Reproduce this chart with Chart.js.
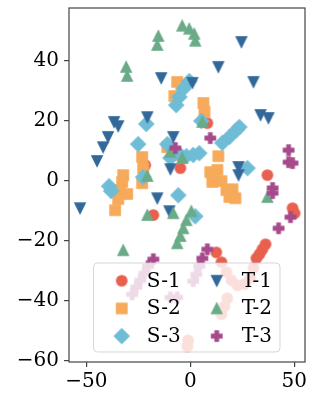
<!DOCTYPE html>
<html>
<head>
<meta charset="utf-8">
<script src="https://cdn.jsdelivr.net/npm/chart.js@4.4.0/dist/chart.umd.min.js"></script>
<style>
  html, body { margin: 0; padding: 0; background: #fff; }
  #wrap { width: 319px; height: 405px; }
</style>
</head>
<body>
<div id="wrap"><canvas id="chart" width="319" height="405"></canvas></div>
<script>
// ========== Dados ==========
const seriesNames = ['S-1', 'S-2', 'S-3', 'T-1', 'T-2', 'T-3'];

const s1 = [[8.2,19.2],[-21.7,5.2],[-4.8,4.2],[-17.8,-11.4],[37.1,1.9],[49.2,-9.1],[50.2,-10.8],
  [36.2,-21.1],[34.7,-22.8],[33.3,-24.4],[31.8,-25.8],[12.5,-23.8],[15.0,-27.1],[17.4,-30.4],
  [19.8,-33.1],[22.7,-34.8],[26.0,-34.4],[28.9,-32.4],[30.4,-29.1],[17.8,-39.1],[16.4,-41.8],
  [15.0,-44.4],[-1.0,-53.1],[-1.4,-55.1]];
const s2 = [[-6.3,32.9],[-7.7,28.2],[6.3,25.9],[6.8,22.9],[-23.2,7.9],[-22.7,4.2],[-23.2,-0.8],
  [-32.3,1.9],[-32.8,-0.4],[-33.8,-3.1],[-30.4,-4.4],[-34.7,-6.1],[-36.2,-9.8],[-11.1,11.2],
  [-8.7,8.6],[13.5,8.2],[9.6,2.9],[13.0,3.6],[10.6,-0.4],[15.0,-0.1],[17.4,-3.1],[20.3,-2.8],
  [18.8,-5.4],[21.7,-5.8]];
const s3 = [[-0.5,33.2],[-3.4,30.6],[-5.3,27.9],[-6.8,25.2],[-21.2,18.9],[-25.1,12.2],[5.3,19.9],
  [15.4,12.6],[18.8,14.6],[22.2,16.9],[23.6,17.9],[-11.1,12.2],[-9.6,7.6],[-4.8,8.6],[-1.9,8.2],
  [1.4,8.6],[4.3,9.2],[-22.7,1.2],[-39.1,-1.8],[-38.1,-3.4],[-5.8,-4.8],[2.4,-11.8],[27.5,4.2]];
const t1 = [[24.6,46.2],[13.5,37.9],[30.4,32.9],[1.0,32.6],[-14.0,34.2],[33.8,21.9],[37.6,20.9],
  [-20.7,21.2],[-36.7,19.6],[-34.7,18.2],[-39.6,14.6],[-42.0,11.2],[-44.9,6.6],[-53.1,-9.1],
  [-8.2,14.6],[-9.6,3.9],[-15.9,-5.8],[-10.1,-10.1],[23.2,4.6],[23.2,1.9]];
const t2 = [[-30.9,37.9],[-30.4,34.9],[-15.4,48.2],[-15.9,45.2],[-3.9,51.6],[-0.5,50.6],[1.9,48.9],
  [2.4,46.6],[5.8,19.6],[-9.6,9.6],[-3.9,7.6],[-20.7,1.6],[-20.7,-11.4],[-8.2,-10.8],[0.5,-10.1],
  [-1.9,-13.1],[-3.4,-15.8],[-4.8,-18.4],[-6.3,-20.8],[-32.3,-23.1],[37.1,-5.4]];
const t3 = [[9.6,14.2],[-7.2,10.9],[47.3,10.2],[47.3,6.2],[49.2,5.9],[39.6,-2.4],[39.6,-4.1],
  [48.2,-12.1],[42.5,-15.8],[8.2,-22.8],[5.8,-25.8],[-17.8,-26.1],[-20.3,-28.4],[-22.2,-30.8],
  [-24.1,-33.1],[-26.0,-35.4],[-28.0,-37.8],[4.3,-28.4],[2.9,-31.1],[1.4,-33.4],[-9.6,-38.8],
  [-6.3,-38.8]];

const xTicks = [-50, 0, 50];
const yTicks = [-60, -40, -20, 0, 20, 40];
const xRange = [-58.4, 55.2];
const yRange = [-60.3, 57.5];

// ========== Estilo ==========
const allSeries = [s1, s2, s3, t1, t2, t3];
const colors = ['#e8604f', '#f6aa5a', '#6fbcd6', '#33689a', '#6aab88', '#a64a8b'];
const shapes = ['o', 's', 'D', 'v', '^', 'P'];
const MARK = 10.4;
const FONT = "'DejaVu Serif', serif";

function makeMarker(shape, color) {
  const size = 24, c = size / 2, h = MARK / 2;
  const cv = document.createElement('canvas');
  cv.width = size; cv.height = size;
  const g = cv.getContext('2d');
  g.beginPath();
  if (shape === 'o') {
    g.arc(c, c, h, 0, Math.PI * 2);
  } else if (shape === 's') {
    g.rect(c - h, c - h, MARK, MARK);
  } else if (shape === 'D') {
    const d = MARK / Math.SQRT2;
    g.moveTo(c, c - d); g.lineTo(c + d, c); g.lineTo(c, c + d); g.lineTo(c - d, c); g.closePath();
  } else if (shape === 'v') {
    g.moveTo(c - h, c - h); g.lineTo(c + h, c - h); g.lineTo(c, c + h); g.closePath();
  } else if (shape === '^') {
    g.moveTo(c, c - h); g.lineTo(c + h, c + h); g.lineTo(c - h, c + h); g.closePath();
  } else if (shape === 'P') {
    const a = MARK / 6;
    const pts = [[-a,-h],[a,-h],[a,-a],[h,-a],[h,a],[a,a],[a,h],[-a,h],[-a,a],[-h,a],[-h,-a],[-a,-a]];
    pts.forEach((p, i) => i ? g.lineTo(c + p[0], c + p[1]) : g.moveTo(c + p[0], c + p[1]));
    g.closePath();
  }
  g.fillStyle = color;
  g.fill();
  g.lineWidth = 1.3;
  g.strokeStyle = color;
  g.lineJoin = 'miter';
  g.stroke();
  return cv;
}

const markers = shapes.map((s, i) => makeMarker(s, colors[i]));
const minus = v => String(v).replace('-', '\u2212');

// ========== Legenda e moldura ==========
const framePlugin = {
  id: 'frame',
  afterDatasetsDraw(chart) {
    const ctx = chart.ctx;
    ctx.save();
    ctx.beginPath();
    ctx.roundRect(93.5, 263, 186.5, 89, 4);
    ctx.fillStyle = 'rgba(255,255,255,0.8)';
    ctx.fill();
    ctx.lineWidth = 1;
    ctx.strokeStyle = 'rgba(204,204,204,0.8)';
    ctx.stroke();
    ctx.font = '20px ' + FONT;
    ctx.fillStyle = '#000';
    ctx.textBaseline = 'alphabetic';
    seriesNames.forEach((name, i) => {
      const col = Math.floor(i / 3), row = i % 3;
      const mx = col ? 216.7 : 121.7;
      const my = 280.7 + row * 27.7;
      ctx.drawImage(markers[i], mx - 12, my - 12);
      ctx.fillText(name, mx + 25, my + 6);
    });
    ctx.restore();
  },
  afterDraw(chart) {
    const { ctx, chartArea: a } = chart;
    ctx.save();
    ctx.strokeStyle = '#444';
    ctx.lineWidth = 1.2;
    ctx.strokeRect(a.left, a.top, a.right - a.left, a.bottom - a.top);
    ctx.restore();
  }
};

function axisOpts(range, ticks, isX) {
  return {
    type: 'linear',
    min: range[0],
    max: range[1],
    afterBuildTicks: s => { s.ticks = ticks.map(v => ({ value: v })); },
    afterFit: s => {
      if (isX) s.height = 43; else s.width = 69;
      s.paddingTop = s.paddingBottom = s.paddingLeft = s.paddingRight = 0;
    },
    border: { display: false },
    grid: { drawOnChartArea: false, drawTicks: true, tickLength: 5, color: '#444', lineWidth: 1.2 },
    ticks: {
      autoSkip: false, maxRotation: 0, padding: isX ? 3 : 5,
      color: '#000', font: { family: FONT, size: 20 },
      callback: v => minus(v)
    }
  };
}

new Chart(document.getElementById('chart'), {
  type: 'scatter',
  data: {
    datasets: allSeries.map((pts, i) => ({
      label: seriesNames[i],
      data: pts.map(([x, y]) => ({ x, y })),
      pointStyle: markers[i],
      pointRadius: 6,
      order: allSeries.length - i
    }))
  },
  options: {
    responsive: false,
    animation: false,
    devicePixelRatio: 1,
    layout: { padding: { left: 0, right: 14, top: 8, bottom: 0 } },
    plugins: { legend: { display: false }, tooltip: { enabled: false } },
    scales: {
      x: axisOpts(xRange, xTicks, true),
      y: axisOpts(yRange, yTicks, false)
    }
  },
  plugins: [framePlugin]
});
</script>
</body>
</html>
